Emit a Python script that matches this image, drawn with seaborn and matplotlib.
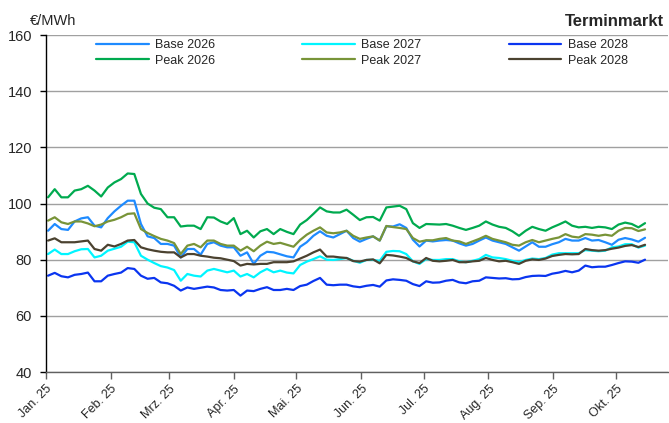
import numpy as np
import pandas as pd
import matplotlib
matplotlib.use("Agg")
import matplotlib.pyplot as plt
import seaborn as sns

# trading-day samples, Jan 2 to Oct 15 2025
dates = pd.date_range("2025-01-02", "2025-10-15", periods=91)

base_2026 = [90.3, 92.7, 90.9, 90.6, 93.6, 94.7, 95.1, 92.1, 91.5, 94.8, 97.2, 99.2, 101.0, 101.0,
             92.7, 88.3, 87.7, 85.6, 85.6, 85.0, 80.8, 83.8, 83.8, 81.8, 85.6, 86.2, 85.0, 84.4, 84.4,
             81.4, 82.6, 78.5, 81.4, 82.8, 82.6, 81.9, 81.2, 80.8, 84.6, 86.2, 88.5, 90.1, 88.5, 87.9,
             89.1, 90.3, 87.7, 86.4, 87.4, 88.3, 86.8, 91.9, 91.8, 92.6, 91.3, 87.1, 84.7, 86.8, 86.5,
             86.8, 87.0, 86.8, 85.8, 85.0, 85.6, 86.8, 87.9, 86.8, 86.2, 85.6, 84.4, 83.2, 84.7, 86.2,
             84.6, 84.6, 85.5, 86.2, 87.4, 86.8, 86.8, 87.7, 86.8, 87.0, 86.2, 85.3, 87.1, 87.7, 87.2, 86.4, 87.8]

base_2027 = [82.0, 83.6, 82.0, 82.0, 83.0, 83.7, 83.8, 80.8, 81.4, 83.2, 83.9, 84.6, 86.4, 86.2,
             81.4, 80.0, 78.8, 77.7, 77.2, 76.3, 72.5, 74.9, 74.3, 74.0, 76.1, 76.7, 76.1, 75.5, 76.1,
             74.0, 74.9, 73.7, 75.5, 76.7, 75.5, 76.1, 75.4, 75.1, 78.1, 79.3, 80.2, 81.2, 80.0, 79.9,
             80.2, 80.6, 79.6, 78.9, 79.9, 79.9, 79.6, 82.8, 83.1, 83.0, 82.0, 79.4, 78.5, 80.2, 79.9,
             79.9, 80.2, 80.2, 79.4, 79.1, 79.6, 80.2, 81.7, 80.8, 80.6, 80.2, 79.6, 79.1, 79.9, 80.4,
             80.2, 80.6, 81.8, 82.3, 82.3, 82.3, 82.3, 83.4, 83.2, 83.0, 83.2, 84.4, 84.7, 85.5, 85.5, 84.3, 85.0]

base_2028 = [74.3, 75.3, 74.1, 73.7, 74.6, 74.9, 75.4, 72.3, 72.3, 74.3, 74.9, 75.4, 77.0, 76.7,
             74.3, 73.2, 73.5, 71.9, 71.6, 70.7, 69.0, 70.1, 69.6, 70.0, 70.4, 70.1, 69.2, 69.0, 69.2,
             67.2, 69.0, 68.8, 69.6, 70.2, 69.2, 69.2, 69.6, 69.2, 70.6, 71.1, 72.4, 73.5, 71.1, 70.9,
             71.1, 71.1, 70.5, 70.2, 70.7, 71.0, 70.4, 72.6, 73.0, 72.8, 72.5, 71.3, 70.6, 72.3, 71.8,
             71.9, 72.5, 72.8, 71.9, 71.6, 72.3, 72.5, 73.7, 73.5, 73.3, 73.4, 73.0, 73.1, 73.8, 74.2,
             74.3, 74.2, 75.0, 75.4, 76.0, 75.5, 76.1, 77.9, 77.3, 77.5, 77.5, 78.1, 78.8, 79.4, 79.3, 78.9, 80.0]

peak_2026 = [102.2, 105.1, 102.2, 102.2, 104.6, 105.1, 106.3, 104.6, 102.5, 105.7, 107.5, 108.7, 110.7, 110.5,
             103.4, 100.0, 98.5, 98.0, 95.1, 95.1, 91.8, 92.1, 92.1, 90.9, 95.1, 95.0, 93.6, 92.7, 94.8,
             89.1, 90.3, 87.9, 90.1, 90.9, 89.1, 90.9, 89.9, 89.1, 92.5, 94.1, 96.3, 98.6, 97.2, 96.8,
             96.8, 97.8, 96.0, 94.1, 95.1, 95.2, 93.9, 98.6, 98.9, 99.2, 98.0, 93.0, 91.3, 92.7, 92.6,
             92.5, 92.7, 92.1, 91.3, 90.6, 91.3, 92.1, 93.6, 92.5, 91.7, 91.3, 90.1, 88.5, 90.3, 91.7,
             90.9, 90.3, 91.5, 92.5, 93.6, 92.1, 91.5, 91.7, 91.3, 91.7, 91.5, 90.9, 92.5, 93.2, 92.7, 91.5, 93.0]

peak_2027 = [93.9, 95.1, 93.3, 92.7, 93.6, 93.6, 92.9, 91.9, 92.5, 93.6, 94.2, 95.1, 96.3, 96.5,
             90.9, 89.5, 88.4, 87.4, 86.8, 85.9, 82.0, 85.0, 85.6, 84.4, 86.8, 86.8, 85.6, 85.0, 85.0,
             83.2, 84.6, 83.0, 85.0, 86.4, 85.6, 86.0, 85.3, 84.6, 87.0, 88.9, 90.3, 91.5, 89.7, 89.4,
             89.7, 90.3, 88.5, 87.4, 87.9, 88.3, 86.8, 92.0, 91.6, 91.3, 90.9, 87.7, 86.4, 86.9, 86.9,
             87.4, 87.7, 86.8, 86.5, 85.6, 86.5, 87.4, 88.5, 87.4, 86.8, 86.2, 85.3, 85.0, 86.2, 87.0,
             86.2, 86.8, 87.4, 87.9, 89.1, 88.2, 87.9, 89.1, 88.9, 88.5, 88.9, 88.5, 90.3, 91.3, 91.2, 90.2, 90.8]

peak_2028 = [86.8, 87.6, 86.2, 86.2, 86.2, 86.5, 86.8, 83.8, 83.2, 85.3, 84.7, 85.6, 86.8, 87.0,
             84.4, 83.7, 83.2, 82.8, 82.6, 82.6, 80.8, 82.0, 82.0, 81.4, 81.1, 80.7, 80.5, 80.0, 79.5,
             77.9, 78.5, 78.3, 78.5, 78.5, 79.1, 79.1, 79.1, 79.4, 80.4, 81.4, 82.6, 83.6, 81.1, 81.1,
             80.8, 80.6, 79.5, 79.3, 79.9, 80.1, 78.7, 81.7, 81.5, 81.1, 80.6, 79.4, 78.8, 80.6, 79.6,
             79.4, 79.6, 79.9, 79.1, 79.1, 79.4, 79.6, 80.6, 79.9, 79.4, 79.6, 79.1, 78.5, 79.6, 80.1,
             79.9, 80.4, 81.3, 81.7, 82.0, 81.9, 82.0, 83.8, 83.4, 83.2, 83.4, 83.9, 84.3, 84.9, 85.2, 84.5, 85.3]

names = ["Base 2026", "Peak 2026", "Base 2027", "Peak 2027", "Base 2028", "Peak 2028"]
values = [base_2026, peak_2026, base_2027, peak_2027, base_2028, peak_2028]
palette = {
    "Base 2026": "#1E8BFF",
    "Peak 2026": "#00AA4F",
    "Base 2027": "#00F5FF",
    "Peak 2027": "#789438",
    "Base 2028": "#0A35F0",
    "Peak 2028": "#4B4230",
}

month_ticks = pd.date_range("2025-01-01", "2025-10-01", freq="MS")
month_labels = ["Jan. 25", "Feb. 25", "Mrz. 25", "Apr. 25", "Mai. 25",
                "Jun. 25", "Jul. 25", "Aug. 25", "Sep. 25", "Okt. 25"]

df = pd.DataFrame({
    "date": np.tile(dates, len(names)),
    "product": np.repeat(names, len(dates)),
    "value": np.concatenate(values),
})

sns.set_style("white")
plt.rcParams["font.family"] = ["Liberation Sans", "DejaVu Sans"]

fig = plt.figure(figsize=(6.69, 4.23), dpi=100)
ax = fig.add_axes([46 / 669, 1 - 372 / 423, 622 / 669, 337 / 423])

sns.lineplot(data=df, x="date", y="value", hue="product", hue_order=names,
             palette=palette, linewidth=1.6, estimator=None, ax=ax)

ax.set_xlim(pd.Timestamp("2025-01-01"), pd.Timestamp("2025-10-26"))
ax.set_ylim(40, 160)
ax.set_yticks(range(40, 161, 20))
ax.set_xticks(month_ticks)
ax.set_xticklabels(month_labels, rotation=45, ha="right", va="top", rotation_mode="anchor")
ax.set_xlabel("")
ax.set_ylabel("")

ax.yaxis.grid(True, color="#a0a0a0", linewidth=1.0)
ax.xaxis.grid(False)
ax.set_axisbelow(True)

for side in ["top", "right"]:
    ax.spines[side].set_visible(False)
ax.spines["left"].set_color("black")
ax.spines["left"].set_linewidth(1.0)
ax.spines["bottom"].set_color("#606060")
ax.spines["bottom"].set_linewidth(1.0)

ax.tick_params(axis="y", direction="out", length=4, width=1, color="black",
               labelsize=10.5, pad=6, left=True)
ax.tick_params(axis="x", direction="out", length=5, width=1, color="#606060",
               labelsize=9, pad=3, bottom=True)

handles, labels = ax.get_legend_handles_labels()
ax.legend(handles, labels, ncol=3, loc="upper left",
          bbox_to_anchor=(96 / 669, 1 - 39 / 423), bbox_transform=fig.transFigure,
          frameon=False, fontsize=9, handlelength=4.2, handletextpad=0.5,
          columnspacing=7.0, labelspacing=0.3, borderpad=0, borderaxespad=0)

fig.text(30 / 669, 1 - 21 / 423, "€/MWh", fontsize=10.5, ha="left", va="center")
fig.text(664 / 669, 1 - 21 / 423, "Terminmarkt", fontsize=12, fontweight="bold",
         ha="right", va="center")

plt.savefig("out.png", dpi=100)
plt.close()
